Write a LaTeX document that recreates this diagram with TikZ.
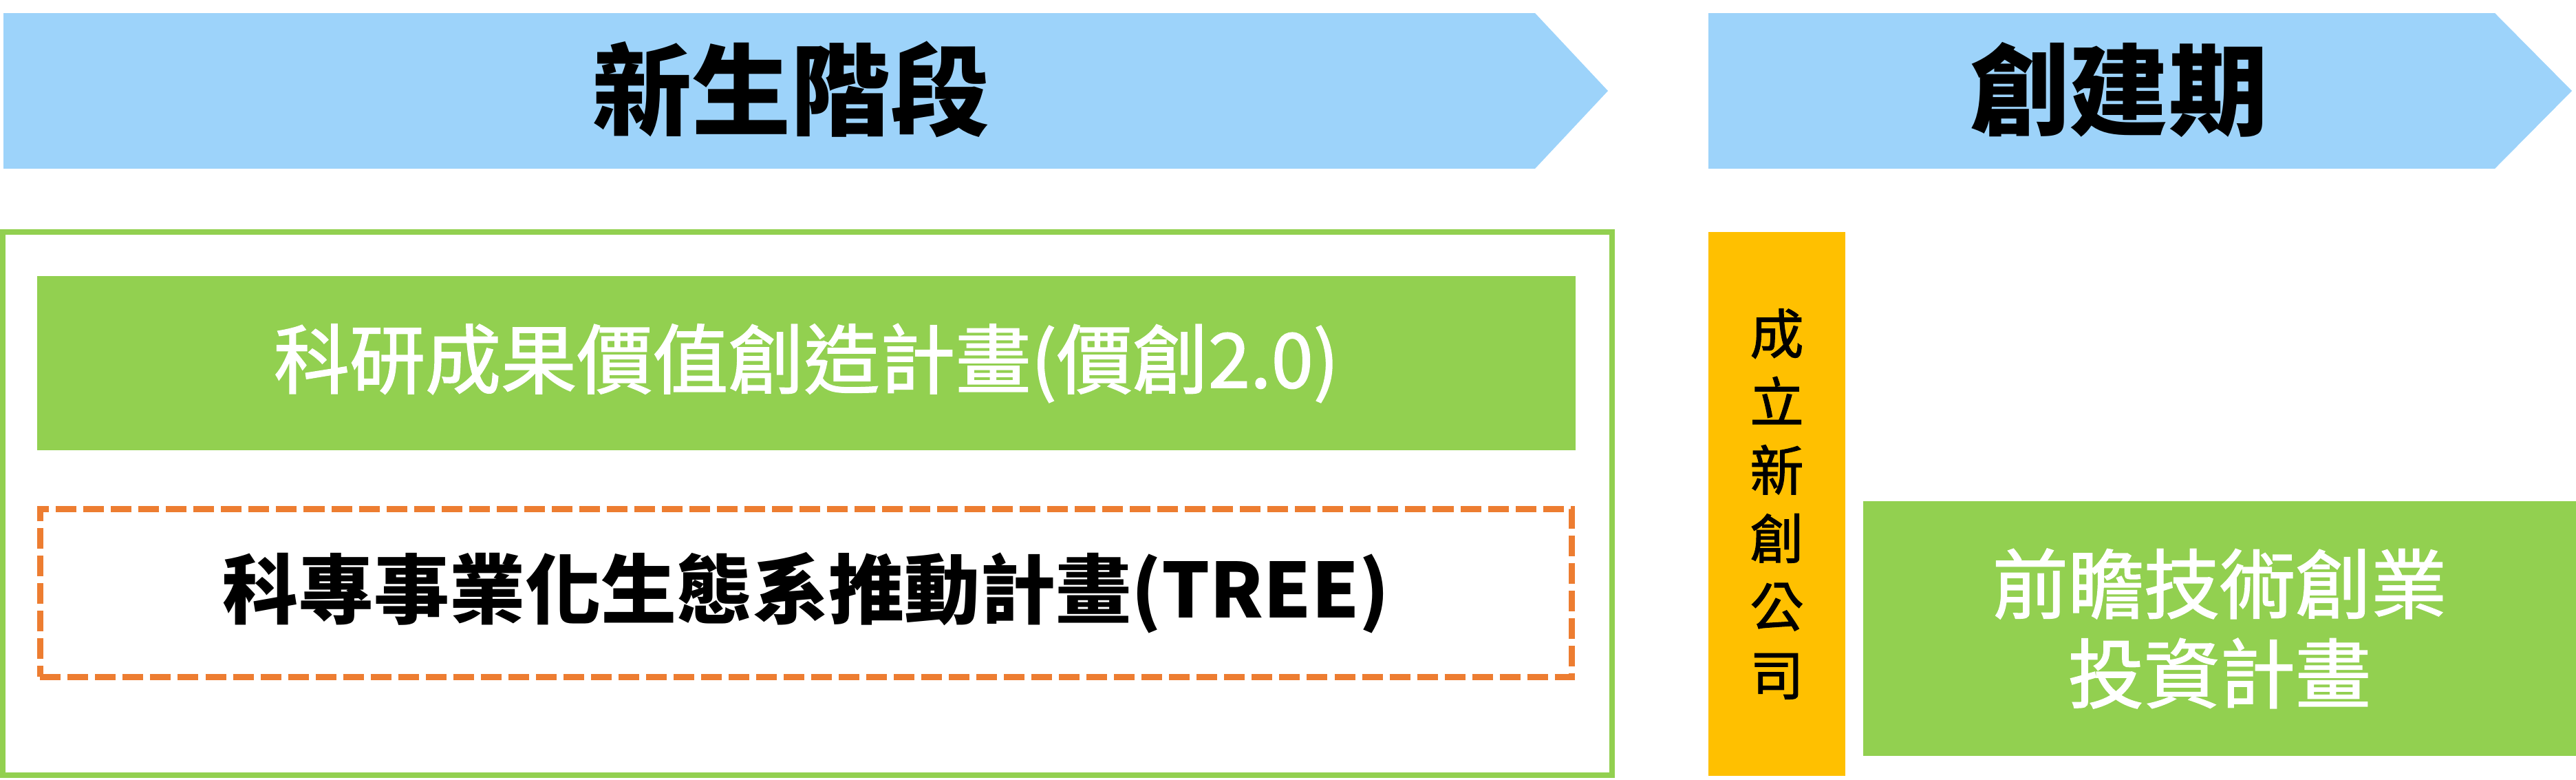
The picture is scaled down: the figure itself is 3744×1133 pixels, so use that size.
\documentclass[tikz,border=0pt]{standalone}
\usepackage{fontspec}
\setmainfont{Noto Sans CJK TC}
\newfontfamily\plainfont{Noto Sans CJK TC}[FakeBold=1.5]
\definecolor{stageblue}{RGB}{157,211,250}
\definecolor{plangreen}{RGB}{146,208,80}
\definecolor{dashorange}{RGB}{237,125,49}
\definecolor{firmyellow}{RGB}{255,192,0}
\begin{document}
\begin{tikzpicture}[x=0.01cm,y=-0.01cm,
        stage/.style={font=\fontsize{41}{49}\selectfont\bfseries},
        plan/.style={fill=plangreen,text=white,align=center,inner sep=0pt,
            font=\plainfont\fontsize{31.3}{37}\selectfont}]
    \useasboundingbox (0,0) rectangle (3744,1133);
    % stage arrows
    \fill[stageblue] (5,19)--(2231,19)--(2337,132)--(2231,245)--(5,245)--cycle;
    \fill[stageblue] (2483,19)--(3626,19)--(3738,132)--(3626,245)--(2483,245)--cycle;
    \node[stage] (newborn) at (1150,130){新生階段};
    \node[stage] (startup) at (3080,130){創建期};
    % newborn stage
    \draw[plangreen,line width=2.28pt] (4,337) rectangle (2343,1126);
    \node[plan,minimum width=22.34cm,minimum height=2.53cm] (value) at (1172,527.5){科研成果價值創造計畫(價創2.0)};
    \node[draw=dashorange,line width=2.56pt,dash pattern=on 0.3cm off 0.1cm,
        minimum width=22.25cm,minimum height=2.43cm,inner sep=0pt,
        font=\fontsize{31.3}{37}\selectfont\bfseries] (tree) at (1171.5,861.5){科專事業化生態系推動計畫(TREE)};
    % startup stage
    \node[fill=firmyellow,minimum width=1.99cm,minimum height=7.90cm,inner sep=0pt,
        align=center,font=\plainfont\fontsize{22.2}{28.2}\selectfont] (firm) at (2582.5,732){成\\立\\新\\創\\公\\司};
    \node[plan,minimum width=10.36cm,minimum height=3.70cm] (invest) at (3226,913){前瞻技術創業\\投資計畫};
\end{tikzpicture}
\end{document}
